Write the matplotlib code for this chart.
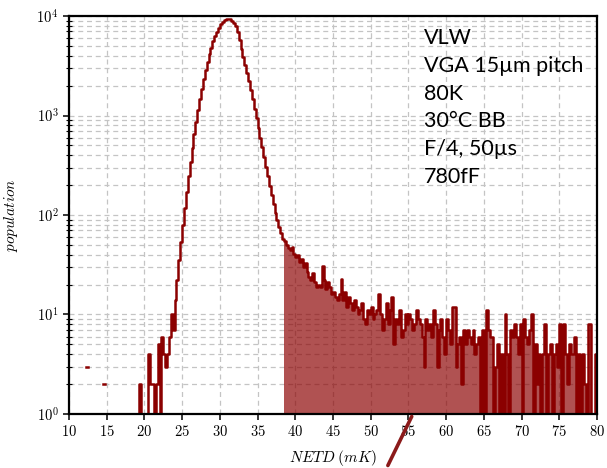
import matplotlib
import numpy as np

matplotlib.use("Agg")
import matplotlib.pyplot as plt  # noqa: E402

# NETD histogram, 0.25 mK bins from 10 to 80 mK (one row per mK)
bin_lo, bin_w = 10.0, 0.25
counts = [
    0, 0, 0, 0,            # 10
    0, 0, 1, 0,            # 11
    0, 3, 0, 0,            # 12
    0, 0, 0, 0,            # 13
    0, 0, 2, 0,            # 14
    0, 1, 0, 0,            # 15
    0, 0, 0, 0,            # 16
    1, 0, 1, 1,            # 17
    1, 0, 0, 0,            # 18
    1, 2, 1, 1,            # 19
    1, 1, 4, 2,            # 20
    2, 1, 2, 5,            # 21
    1, 6, 4, 3,            # 22
    4, 6, 10, 7,           # 23
    14, 22, 35, 53,        # 24
    79, 117, 170, 244,     # 25
    343, 473, 645, 861,    # 26
    1132, 1462, 1862, 2328,  # 27
    2864, 3459, 4120, 4820,  # 28
    5546, 6267, 6982, 7638,  # 29
    8222, 8700, 9057, 9268,  # 30
    9330, 9250, 9000, 8600,  # 31
    7950, 6950, 5750, 4700,  # 32
    3900, 3200, 2650, 2200,  # 33
    1800, 1450, 1170, 940,   # 34
    750, 600, 480, 385,      # 35
    305, 245, 195, 158,      # 36
    128, 104, 90, 76,        # 37
    66, 58, 55, 50,          # 38
    47, 44, 48, 41,          # 39
    38, 40, 34, 36,          # 40
    30, 33, 27, 24,          # 41
    22, 26, 21, 19,          # 42
    20, 19, 31, 22,          # 43
    18, 21, 19, 16,          # 44
    17, 15, 14, 16,          # 45
    23, 14, 17, 12,          # 46
    15, 13, 11, 14,          # 47
    12, 10, 11, 13,          # 48
    9, 8, 11, 10,            # 49
    12, 9, 10, 11,           # 50
    16, 10, 7, 9,            # 51
    13, 8, 11, 15,           # 52
    5, 9, 8, 11,             # 53
    6, 7, 10, 8,             # 54
    10, 9, 7, 8,             # 55
    11, 9, 8, 6,             # 56
    3, 9, 7, 8,              # 57
    6, 11, 8, 3,             # 58
    7, 9, 6, 4,              # 59
    9, 7, 5, 12,             # 60
    12, 3, 5, 6,             # 61
    2, 7, 5, 7,              # 62
    6, 5, 7, 4,              # 63
    5, 6, 1, 7,              # 64
    1, 11, 7, 6,             # 65
    6, 1, 3, 5,              # 66
    1, 4, 1, 10,             # 67
    4, 1, 7, 6,              # 68
    8, 6, 4, 8,              # 69
    1, 9, 6, 5,              # 70
    7, 10, 1, 5,             # 71
    2, 4, 1, 4,              # 72
    8, 1, 4, 5,              # 73
    1, 4, 5, 3,              # 74
    8, 1, 8, 4,              # 75
    2, 5, 4, 4,              # 76
    6, 1, 4, 1,              # 77
    4, 2, 1, 8,              # 78
    8, 1, 1, 4,              # 79
]
tail_start = 38.5  # shaded tail of the distribution
x_ticks = list(range(10, 81, 5))
notes = ["VLW", "VGA 15µm pitch", "80K", "30°C BB", "F/4, 50µs", "780fF"]

plt.rcParams["font.family"] = "cmr10"
plt.rcParams["mathtext.fontset"] = "cm"
plt.rcParams["axes.formatter.use_mathtext"] = True

counts = np.array(counts, dtype=float)
edges = bin_lo + bin_w * np.arange(len(counts) + 1)
xs = np.repeat(edges, 2)[1:-1]
ys = np.repeat(counts, 2)
ys_line = np.where(ys > 0, ys, np.nan)

fig = plt.figure(figsize=(6.07, 4.68), dpi=100)
ax = fig.add_axes([0.1137, 0.1154, 0.8698, 0.8504])
red = "#8b0000"

mask = xs >= tail_start
ax.fill_between(xs, np.where(ys > 0, ys, 1), 1, where=mask,
                color=red, alpha=0.68, lw=0)
ax.plot(xs, ys_line, color=red, lw=1.8)

ax.set_yscale("log")
ax.set_xlim(10, 80)
ax.set_ylim(1, 1e4)
ax.set_xticks(x_ticks)
ax.grid(True, which="major", axis="x", color="#c4c4c4", ls=(0, (4, 3)), lw=0.9)
ax.grid(True, which="both", axis="y", color="#c4c4c4", ls=(0, (4, 3)), lw=0.9)
ax.set_axisbelow(True)
for s in ax.spines.values():
    s.set_linewidth(1.6)
ax.tick_params(which="major", direction="out", length=4, width=1.1, labelsize=10.5)
ax.tick_params(which="minor", direction="inout", length=4, width=0.8)
ax.tick_params(axis="x", which="minor", bottom=False)

ax.set_xlabel(r"$NETD\;(mK)$", fontsize=11, labelpad=6)
ax.set_ylabel(r"$population$", fontsize=11, labelpad=12)

ax.text(57.0, 0.97, "\n".join(notes), transform=ax.get_xaxis_transform(),
        family="Lato", fontsize=15.5, va="top", ha="left", linespacing=1.49)

ax.annotate("", xy=(55.6, 1.0), xycoords="data",
            xytext=(0.637, 0.0), textcoords="figure fraction",
            arrowprops=dict(arrowstyle="-", color="#8b1a1a", lw=2.6),
            annotation_clip=False)

fig.savefig("out.png", dpi=100)
